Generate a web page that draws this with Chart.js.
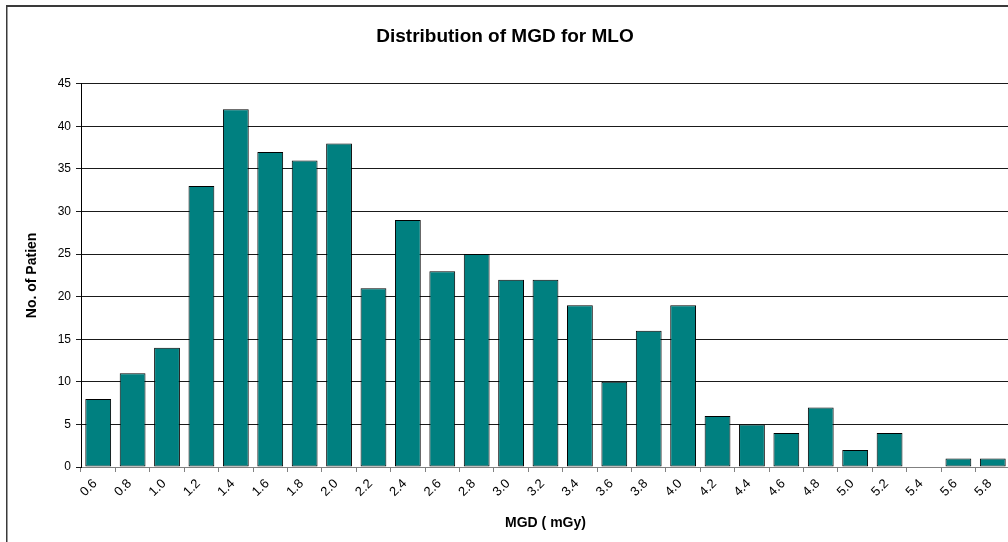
<!DOCTYPE html>
<html>
<head>
<meta charset="utf-8">
<script src="https://cdn.jsdelivr.net/npm/chart.js@4/dist/chart.umd.min.js"></script>
<style>
  html, body { margin: 0; padding: 0; overflow: hidden; background: #fff; width: 1008px; height: 542px; }
  canvas { display: block; }
</style>
</head>
<body>
<canvas id="c" width="1040" height="542"></canvas>
<script>
// Mean glandular dose bins (mGy) and patient counts per bin
const doseBins = ['0.6', '0.8', '1.0', '1.2', '1.4', '1.6', '1.8', '2.0', '2.2', '2.4',
                  '2.6', '2.8', '3.0', '3.2', '3.4', '3.6', '3.8', '4.0', '4.2', '4.4',
                  '4.6', '4.8', '5.0', '5.2', '5.4', '5.6', '5.8'];
const patientCounts = [8, 11, 14, 33, 42, 37, 36, 38, 21, 29,
                       23, 25, 22, 22, 19, 10, 16, 19, 6, 5,
                       4, 7, 2, 4, 0, 1, 1];
const countAxisMax = 45;
const countAxisStep = 5;

const FONT = "'Liberation Sans', Arial, sans-serif";

// White page with the chart object's frame (top and left edges)
const framePlugin = {
  id: 'frame',
  beforeDraw(chart) {
    const ctx = chart.ctx;
    ctx.save();
    ctx.fillStyle = '#ffffff';
    ctx.fillRect(0, 0, chart.width, chart.height);
    ctx.fillStyle = '#3a3a3a';
    ctx.fillRect(6, 5, chart.width - 6, 2);
    ctx.fillRect(6, 5, 1.5, chart.height - 5);
    ctx.restore();
  }
};

new Chart(document.getElementById('c'), {
  type: 'bar',
  data: {
    labels: doseBins,
    datasets: [{
      data: patientCounts,
      backgroundColor: '#008080',
      borderColor: '#000000',
      borderWidth: 1,
      borderSkipped: false,
      categoryPercentage: 0.75,
      barPercentage: 1.0
    }]
  },
  options: {
    responsive: false,
    animation: false,
    devicePixelRatio: 1,
    layout: { padding: { left: 0, right: 30, top: 0, bottom: 0 } },
    plugins: {
      legend: { display: false },
      tooltip: { enabled: false },
      title: {
        display: true,
        text: 'Distribution of MGD for MLO',
        color: '#000',
        font: { family: FONT, size: 19, weight: 'bold' },
        padding: { top: 25, bottom: 36 }
      }
    },
    scales: {
      x: {
        grid: {
          display: true,
          drawOnChartArea: false,
          drawTicks: true,
          tickLength: 5,
          color: '#808080',
          offset: true
        },
        border: { color: '#808080' },
        ticks: {
          autoSkip: false,
          minRotation: 45,
          maxRotation: 45,
          padding: 4,
          labelOffset: -3,
          color: '#000',
          font: { family: FONT, size: 13 }
        },
        title: {
          display: true,
          text: 'MGD ( mGy)',
          color: '#000',
          font: { family: FONT, size: 14, weight: 'bold' },
          padding: { top: 4, bottom: 10 }
        },
        afterFit(scale) { scale.height = 75; }
      },
      y: {
        min: 0,
        max: countAxisMax,
        ticks: {
          stepSize: countAxisStep,
          padding: 5,
          color: '#000',
          font: { family: FONT, size: 12 }
        },
        grid: { color: '#1a1a1a', tickLength: 5 },
        border: { color: '#000' },
        title: {
          display: true,
          text: 'No. of Patien',
          color: '#000',
          font: { family: FONT, size: 14, weight: 'bold' },
          padding: { top: 24, bottom: 0 }
        },
        afterFit(scale) { scale.width = 81; }
      }
    }
  },
  plugins: [framePlugin]
});
</script>
</body>
</html>
